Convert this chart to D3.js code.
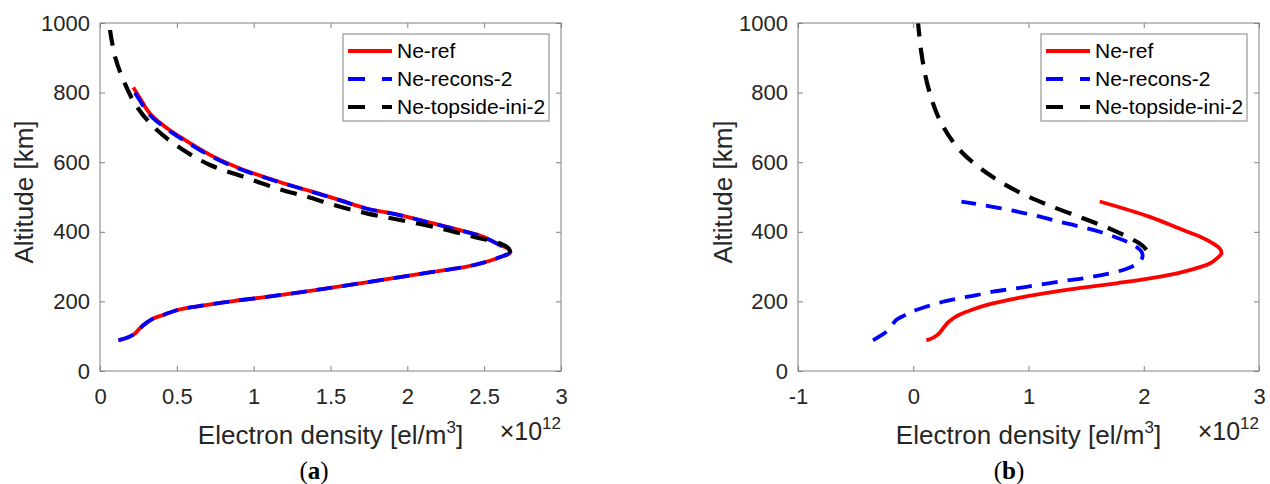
<!DOCTYPE html>
<html>
<head>
<meta charset="utf-8">
<script src="https://cdn.jsdelivr.net/npm/d3@7"></script>
<style>
  html, body { margin: 0; padding: 0; background: #fff; }
  svg { display: block; font-family: "Liberation Sans", Arial, Helvetica, sans-serif; }
</style>
</head>
<body>
<svg id="chart" width="1270" height="484"></svg>
<script>
// Electron density profiles (units of 1e12 el/m^3) versus altitude (km)

// Panel (a)
const altRefA      = [88, 96, 108, 123, 139, 151, 161, 176, 187, 201, 213, 226, 240, 255, 270, 285, 300, 314, 327, 340, 352, 362, 386, 400, 424, 448, 467, 491, 520, 549, 582, 621, 673, 702, 740, 784, 815];
const neRefA       = [0.12, 0.18, 0.228, 0.26, 0.304, 0.347, 0.412, 0.51, 0.651, 0.868, 1.085, 1.30, 1.518, 1.735, 1.952, 2.169, 2.386, 2.516, 2.603, 2.67, 2.655, 2.603, 2.494, 2.386, 2.169, 1.952, 1.735, 1.562, 1.345, 1.128, 0.911, 0.716, 0.52, 0.423, 0.325, 0.26, 0.217];
const altReconsA   = [88, 96, 108, 123, 139, 151, 161, 176, 187, 201, 213, 226, 240, 255, 270, 285, 300, 314, 327, 340, 352, 362, 386, 400, 424, 448, 467, 491, 520, 549, 582, 621, 673, 702, 740, 784, 815];
const neReconsA    = [0.12, 0.18, 0.228, 0.26, 0.304, 0.347, 0.412, 0.51, 0.651, 0.868, 1.085, 1.30, 1.518, 1.735, 1.952, 2.169, 2.386, 2.516, 2.6, 2.665, 2.65, 2.6, 2.49, 2.38, 2.165, 1.948, 1.73, 1.556, 1.34, 1.12, 0.9, 0.705, 0.51, 0.413, 0.315, 0.25, 0.205];
const altTopsideA  = [340, 352, 367, 386, 410, 434, 453, 475, 501, 525, 558, 592, 635, 693, 760, 836, 903, 980];
const neTopsideA   = [2.67, 2.66, 2.6, 2.43, 2.213, 1.952, 1.735, 1.54, 1.345, 1.15, 0.933, 0.716, 0.542, 0.369, 0.239, 0.152, 0.098, 0.065];

// Panel (b)
const altRefB      = [88, 96, 108, 123, 139, 151, 163, 176, 190, 209, 233, 252, 266, 285, 309, 325, 338, 352, 367, 386, 405, 443, 487];
const neRefB       = [0.114, 0.175, 0.225, 0.26, 0.3, 0.345, 0.41, 0.51, 0.64, 0.895, 1.33, 1.763, 2.052, 2.341, 2.573, 2.64, 2.674, 2.66, 2.60, 2.49, 2.341, 2.052, 1.618];
const altReconsB   = [88, 100, 113, 130, 147, 160, 170, 185, 199, 209, 218, 228, 235, 242, 257, 271, 295, 314, 330, 343, 358, 372, 400, 424, 448, 468, 487];
const neReconsB    = [-0.349, -0.29, -0.233, -0.19, -0.146, -0.075, -0.016, 0.114, 0.258, 0.403, 0.548, 0.692, 0.837, 0.982, 1.27, 1.56, 1.864, 1.965, 1.99, 1.98, 1.93, 1.85, 1.618, 1.33, 1.04, 0.75, 0.418];
const altTopsideB  = [348, 360, 372, 405, 439, 475, 513, 563, 635, 721, 817, 913, 1000];
const neTopsideB   = [2.023, 1.99, 1.936, 1.734, 1.473, 1.184, 0.924, 0.664, 0.403, 0.23, 0.128, 0.071, 0.042];

// Axes
const xTicksA      = [0, 0.5, 1, 1.5, 2, 2.5, 3];
const xTickLabelsA = ["0", "0.5", "1", "1.5", "2", "2.5", "3"];
const xTicksB      = [-1, 0, 1, 2, 3];
const xTickLabelsB = ["-1", "0", "1", "2", "3"];
const yTicks       = [0, 200, 400, 600, 800, 1000];
const yTickLabels  = ["0", "200", "400", "600", "800", "1000"];

const seriesNames  = ["Ne-ref", "Ne-recons-2", "Ne-topside-ini-2"];
const panelTags    = ["a", "b"];

const svg = d3.select("#chart");
const TEXT = "#262626";
const AXIS = "#808080";

const styles = [
  { color: "#ff0000", width: 3.8, dash: null },
  { color: "#0000ff", width: 3.8, dash: "16,10" },
  { color: "#000000", width: 4.2, dash: "17,11" }
];

const panels = [
  {
    left: 100, right: 561, domain: [0, 3], ticks: xTicksA, labels: xTickLabelsA,
    series: [[altRefA, neRefA], [altReconsA, neReconsA], [altTopsideA, neTopsideA]],
    tagX: 314, yLabelX: 33
  },
  {
    left: 798, right: 1259, domain: [-1, 3], ticks: xTicksB, labels: xTickLabelsB,
    series: [[altRefB, neRefB], [altReconsB, neReconsB], [altTopsideB, neTopsideB]],
    tagX: 1009, yLabelX: 732
  }
];

const plotTop = 23, plotBottom = 371;

panels.forEach((p, pi) => {
  const x = d3.scaleLinear().domain(p.domain).range([p.left, p.right]);
  const y = d3.scaleLinear().domain([0, 1000]).range([plotBottom, plotTop]);
  const g = svg.append("g");

  const clipId = "clip" + pi;
  svg.append("clipPath").attr("id", clipId)
    .append("rect").attr("x", p.left).attr("y", plotTop)
    .attr("width", p.right - p.left).attr("height", plotBottom - plotTop);

  // curves
  const line = d3.line().x(d => x(d[1])).y(d => y(d[0])).curve(d3.curveCatmullRom.alpha(0.5));
  p.series.forEach((s, si) => {
    const pts = s[0].map((a, i) => [a, s[1][i]]);
    const st = styles[si];
    g.append("path")
      .attr("clip-path", `url(#${clipId})`)
      .attr("d", line(pts))
      .attr("fill", "none")
      .attr("stroke", st.color)
      .attr("stroke-width", st.width)
      .attr("stroke-dasharray", st.dash)
      .attr("stroke-linejoin", "round");
  });

  // axes (inward ticks on all four sides)
  const fmt = (d, i) => p.labels[i];
  const xb = g.append("g").attr("transform", `translate(0,${plotBottom})`)
    .call(d3.axisBottom(x).tickValues(p.ticks).tickFormat(fmt).tickSizeInner(-5).tickSizeOuter(0).tickPadding(17));
  const xt = g.append("g").attr("transform", `translate(0,${plotTop})`)
    .call(d3.axisTop(x).tickValues(p.ticks).tickFormat("").tickSizeInner(-5).tickSizeOuter(0));
  const yl = g.append("g").attr("transform", `translate(${p.left},0)`)
    .call(d3.axisLeft(y).tickValues(yTicks).tickFormat((d, i) => yTickLabels[i]).tickSizeInner(-5).tickSizeOuter(0).tickPadding(10));
  const yr = g.append("g").attr("transform", `translate(${p.right},0)`)
    .call(d3.axisRight(y).tickValues(yTicks).tickFormat("").tickSizeInner(-5).tickSizeOuter(0));
  [xb, xt, yl, yr].forEach(a => {
    a.select(".domain").remove();
    a.selectAll("line").attr("stroke", AXIS);
    a.selectAll("text").attr("fill", TEXT).style("font-size", "22px")
      .style("font-family", "'Liberation Sans', Arial, sans-serif");
  });
  g.append("rect")
    .attr("x", p.left).attr("y", plotTop)
    .attr("width", p.right - p.left).attr("height", plotBottom - plotTop)
    .attr("fill", "none").attr("stroke", AXIS).attr("stroke-width", 1);

  // axis labels
  const xl = g.append("text")
    .attr("x", (p.left + p.right) / 2).attr("y", 444)
    .attr("text-anchor", "middle").attr("fill", TEXT).style("font-size", "26px");
  xl.append("tspan").text("Electron density [el/m");
  xl.append("tspan").text("3").style("font-size", "17px").attr("dy", -11);
  xl.append("tspan").text("]").attr("dy", 11);

  const ex = g.append("text")
    .attr("x", p.right).attr("y", 440)
    .attr("text-anchor", "end").attr("fill", TEXT).style("font-size", "25px");
  ex.append("tspan").text("\u00d710");
  ex.append("tspan").text("12").style("font-size", "17px").attr("dy", -11);

  g.append("text")
    .attr("transform", `translate(${p.yLabelX},192) rotate(-90)`)
    .attr("text-anchor", "middle").attr("fill", TEXT).style("font-size", "26px")
    .text("Altitude [km]");

  // panel tag
  const tag = g.append("text")
    .attr("x", p.tagX).attr("y", 479)
    .attr("text-anchor", "middle").attr("fill", "#000")
    .style("font-family", "'Liberation Serif', 'Times New Roman', serif")
    .style("font-size", "25px");
  tag.append("tspan").text("(");
  tag.append("tspan").text(panelTags[pi]).style("font-weight", "bold");
  tag.append("tspan").text(")");

  // legend
  const lx = p.right - 218, ly = 34, lw = 206, lh = 87;
  const lg = g.append("g");
  lg.append("rect").attr("x", lx).attr("y", ly).attr("width", lw).attr("height", lh)
    .attr("fill", "#fff").attr("stroke", AXIS).attr("stroke-width", 1);
  seriesNames.forEach((name, i) => {
    const cy = ly + 17 + i * 28;
    const st = styles[i];
    lg.append("line")
      .attr("x1", lx + 5).attr("x2", lx + 49).attr("y1", cy).attr("y2", cy)
      .attr("stroke", st.color).attr("stroke-width", st.width)
      .attr("stroke-dasharray", st.dash ? "17,17" : null);
    lg.append("text")
      .attr("x", lx + 54).attr("y", cy).attr("dy", "0.35em")
      .attr("fill", "#000").style("font-size", "21px")
      .text(name);
  });
});
</script>
</body>
</html>
